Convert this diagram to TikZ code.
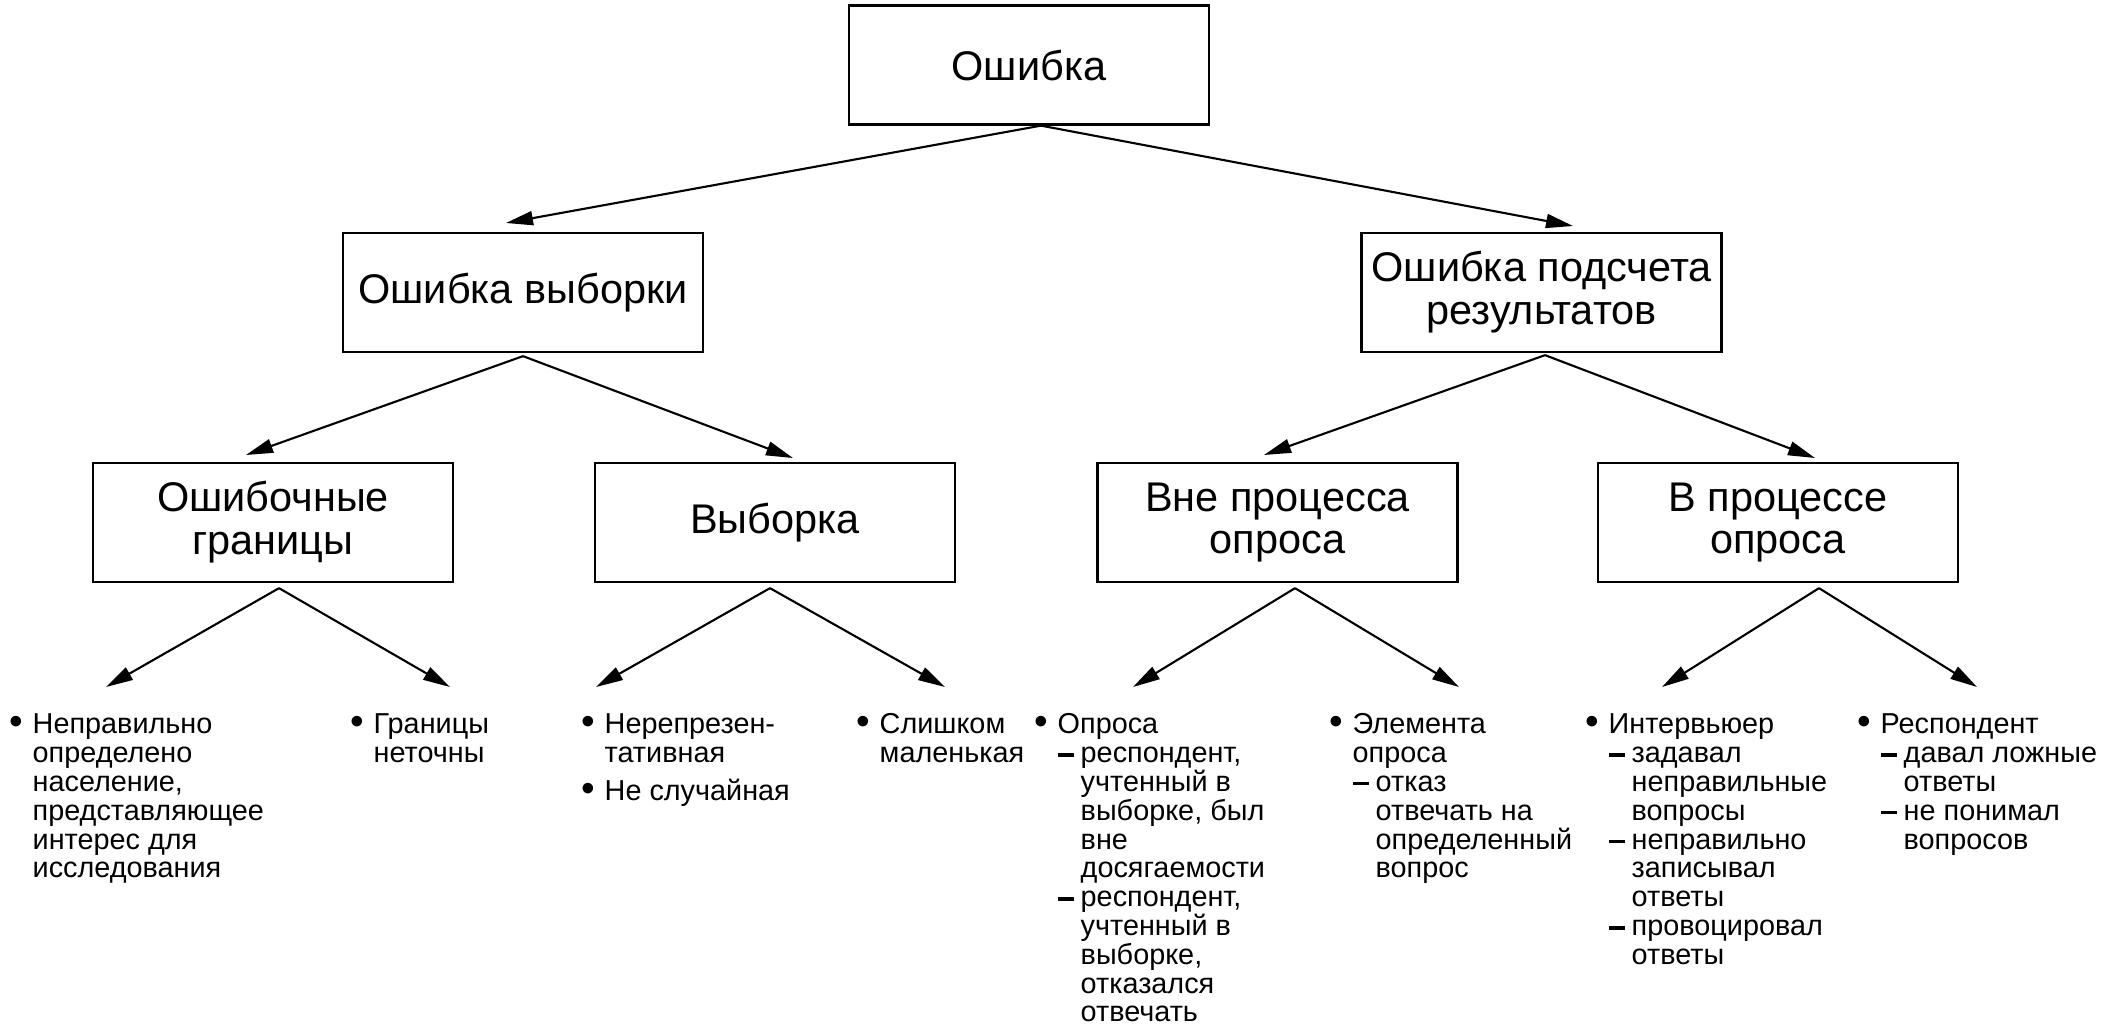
\documentclass[tikz,border=0pt]{standalone}
\usepackage{fontspec}
\setmainfont{Liberation Sans}
\usepackage{graphicx}
\usepackage{tikz}
\usetikzlibrary{arrows.meta}
\newcommand{\boxfont}{\fontsize{11.8}{12.2}\selectfont}
\newcommand{\leaffont}{\fontsize{8.2}{8.2}\selectfont}
\newcommand{\lbul}{\rule{0pt}{6pt}\makebox[2.3mm][l]{\raisebox{-0.3pt}{\scalebox{1.35}{•}}}}
\newcommand{\ldash}{\hspace*{2.3mm}\makebox[2.3mm][l]{\rule[1.7pt]{1.65mm}{1pt}}}
\newcommand{\lind}{\hspace*{2.3mm}}
\newcommand{\lsub}{\hspace*{4.6mm}}
\tikzstyle{box}=[draw,rectangle,align=center,minimum width=36mm,minimum height=11.9mm,inner sep=1pt,font=\boxfont,line width=0.65pt]
\tikzstyle{leaf}=[align=left,anchor=north west,inner sep=0pt,font=\leaffont]

\begin{document}
\begin{tikzpicture}
	[x=0.1mm,y=-0.1mm]
	\tikzstyle{arrow}=[-{Triangle[length=2.7mm,width=1.4mm]},line width=0.6pt];
	\useasboundingbox (0,0) rectangle (2120,1027);
	% boxes
	\node (err) [box] at (1029,65) {Ошибка};
	\node (samp) [box] at (523,292.5) {Ошибка выборки};
	\node (count) [box] at (1541.5,292.5) {Ошибка подсчета\\результатов};
	\node (bound) [box] at (273,522.5) {Ошибочные\\границы};
	\node (sel) [box] at (775,522.5) {Выборка};
	\node (outp) [box] at (1277.5,522.5) {Вне процесса\\опроса};
	\node (inp) [box] at (1778,522.5) {В процессе\\опроса};
	% lists (top of first line at 712)
	\node (bound1) [leaf] at (9,712) {\lbul Неправильно\\\lind определено\\\lind население,\\\lind представляющее\\\lind интерес для\\\lind исследования};
	\node (bound2) [leaf] at (350,712) {\lbul Границы\\\lind неточны};
	\node (sel1) [leaf] at (581,712) {\lbul Нерепрезен-\\\lind тативная\\[2.7pt]\lbul Не случайная};
	\node (sel2) [leaf] at (856,712) {\lbul Слишком\\\lind маленькая};
	\node (outp1) [leaf] at (1034,712) {\lbul Опроса\\\ldash респондент,\\\lsub учтенный в\\\lsub выборке, был\\\lsub вне\\\lsub досягаемости\\\ldash респондент,\\\lsub учтенный в\\\lsub выборке,\\\lsub отказался\\\lsub отвечать};
	\node (outp2) [leaf] at (1329,712) {\lbul Элемента\\\lind опроса\\\ldash отказ\\\lsub отвечать на\\\lsub определенный\\\lsub вопрос};
	\node (inp1) [leaf] at (1585,712) {\lbul Интервьюер\\\ldash задавал\\\lsub неправильные\\\lsub вопросы\\\ldash неправильно\\\lsub записывал\\\lsub ответы\\\ldash провоцировал\\\lsub ответы};
	\node (inp2) [leaf] at (1857,712) {\lbul Респондент\\\ldash давал ложные\\\lsub ответы\\\ldash не понимал\\\lsub вопросов};
	% arrow tips
	\coordinate (samp tip) at (506,223);
	\coordinate (count tip) at (1573,226);
	\coordinate (bound tip) at (246,455);
	\coordinate (sel tip) at (793,458);
	\coordinate (outp tip) at (1264,455);
	\coordinate (inp tip) at (1815,458);
	\coordinate (bound1 tip) at (106,687);
	\coordinate (bound2 tip) at (450,687);
	\coordinate (sel1 tip) at (596,687);
	\coordinate (sel2 tip) at (945,687);
	\coordinate (outp1 tip) at (1133,687);
	\coordinate (outp2 tip) at (1459,687);
	\coordinate (inp1 tip) at (1662,687);
	\coordinate (inp2 tip) at (1977,687);
	\path[arrow]
		([xshift=1.2mm]err.south) edge (samp tip) edge (count tip)
		([yshift=-0.3mm]samp.south) edge (bound tip) edge (sel tip)
		([xshift=0.35mm,yshift=-0.2mm]count.south) edge (outp tip) edge (inp tip)
		([xshift=0.6mm,yshift=-0.5mm]bound.south) edge (bound1 tip) edge (bound2 tip)
		([xshift=-0.5mm,yshift=-0.5mm]sel.south) edge (sel1 tip) edge (sel2 tip)
		([xshift=1.75mm,yshift=-0.5mm]outp.south) edge (outp1 tip) edge (outp2 tip)
		([xshift=4.1mm,yshift=-0.5mm]inp.south) edge (inp1 tip) edge (inp2 tip);
\end{tikzpicture}
\end{document}
